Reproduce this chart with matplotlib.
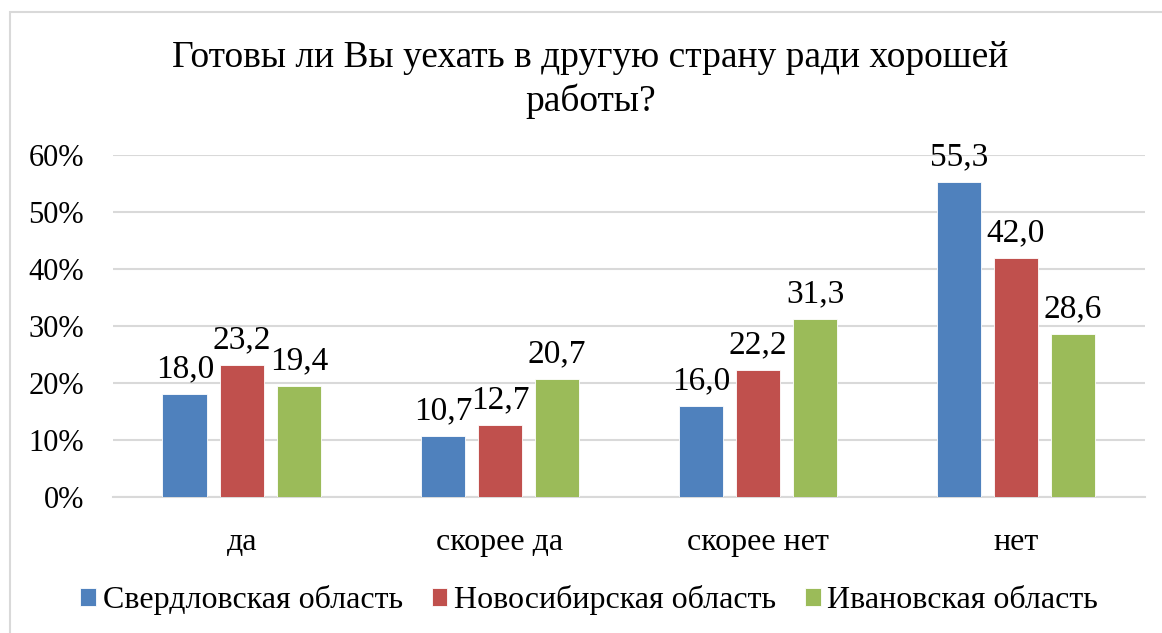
import matplotlib.pyplot as plt
import numpy as np
from matplotlib.patches import Rectangle

categories = ["да", "скорее да", "скорее нет", "нет"]
series_names = ["Свердловская область", "Новосибирская область", "Ивановская область"]
sverdlovsk = [18.0, 10.7, 16.0, 55.3]
novosibirsk = [23.2, 12.7, 22.2, 42.0]
ivanovo = [19.4, 20.7, 31.3, 28.6]
colors = ["#4F81BD", "#C0504D", "#9BBB59"]

plt.rcParams["font.family"] = ["Liberation Serif", "DejaVu Serif"]

fig = plt.figure(figsize=(11.62, 6.33), dpi=100)
ax = fig.add_axes([0.0972, 0.2148, 0.8882, 0.5403])

x = np.arange(len(categories))
width = 0.174
pitch = 0.221
bars = []
for i, (vals, name, c) in enumerate(zip([sverdlovsk, novosibirsk, ivanovo], series_names, colors)):
    b = ax.bar(x + (i - 1) * pitch, vals, width, color=c, label=name, zorder=3,
               edgecolor="white", linewidth=0.6)
    bars.append(b)
    for rect, v in zip(b, vals):
        ax.annotate(f"{v:.1f}".replace(".", ","),
                    (rect.get_x() + rect.get_width() / 2, rect.get_height()),
                    xytext=(0, 7), textcoords="offset points",
                    ha="center", va="bottom", fontsize=24, zorder=4)

ax.set_xlim(-0.5, 3.5)
ax.set_ylim(0, 60)
ax.set_yticks(range(0, 61, 10))
ax.set_yticklabels([f"{t}%" for t in range(0, 61, 10)], fontsize=22)
ax.set_xticks(x)
ax.set_xticklabels(categories, fontsize=23)
ax.tick_params(length=0)
ax.tick_params(axis="y", pad=21)
ax.tick_params(axis="x", pad=22)
ax.grid(axis="y", color="#D9D9D9", linewidth=1.5, zorder=0)
for s in ["top", "right", "left"]:
    ax.spines[s].set_visible(False)
ax.spines["bottom"].set_color("#D9D9D9")
ax.spines["bottom"].set_linewidth(1.5)

fig.text(0.508, 0.874, "Готовы ли Вы уехать в другую страну ради хорошей\nработы?",
         ha="center", va="center", fontsize=27, linespacing=1.3)

fig.legend(handles=bars, labels=series_names, loc="center", bbox_to_anchor=(0.507, 0.052),
           ncol=3, frameon=False, fontsize=23, handlelength=0.5, handleheight=0.5,
           handletextpad=0.2, columnspacing=0.9)

fig.patches.append(Rectangle((10 / 1162, -0.1), 1.2, 1 - 12 / 633 + 0.1,
                             transform=fig.transFigure, fill=False,
                             edgecolor="#D9D9D9", linewidth=1.5))

fig.savefig("out.png", dpi=100)
